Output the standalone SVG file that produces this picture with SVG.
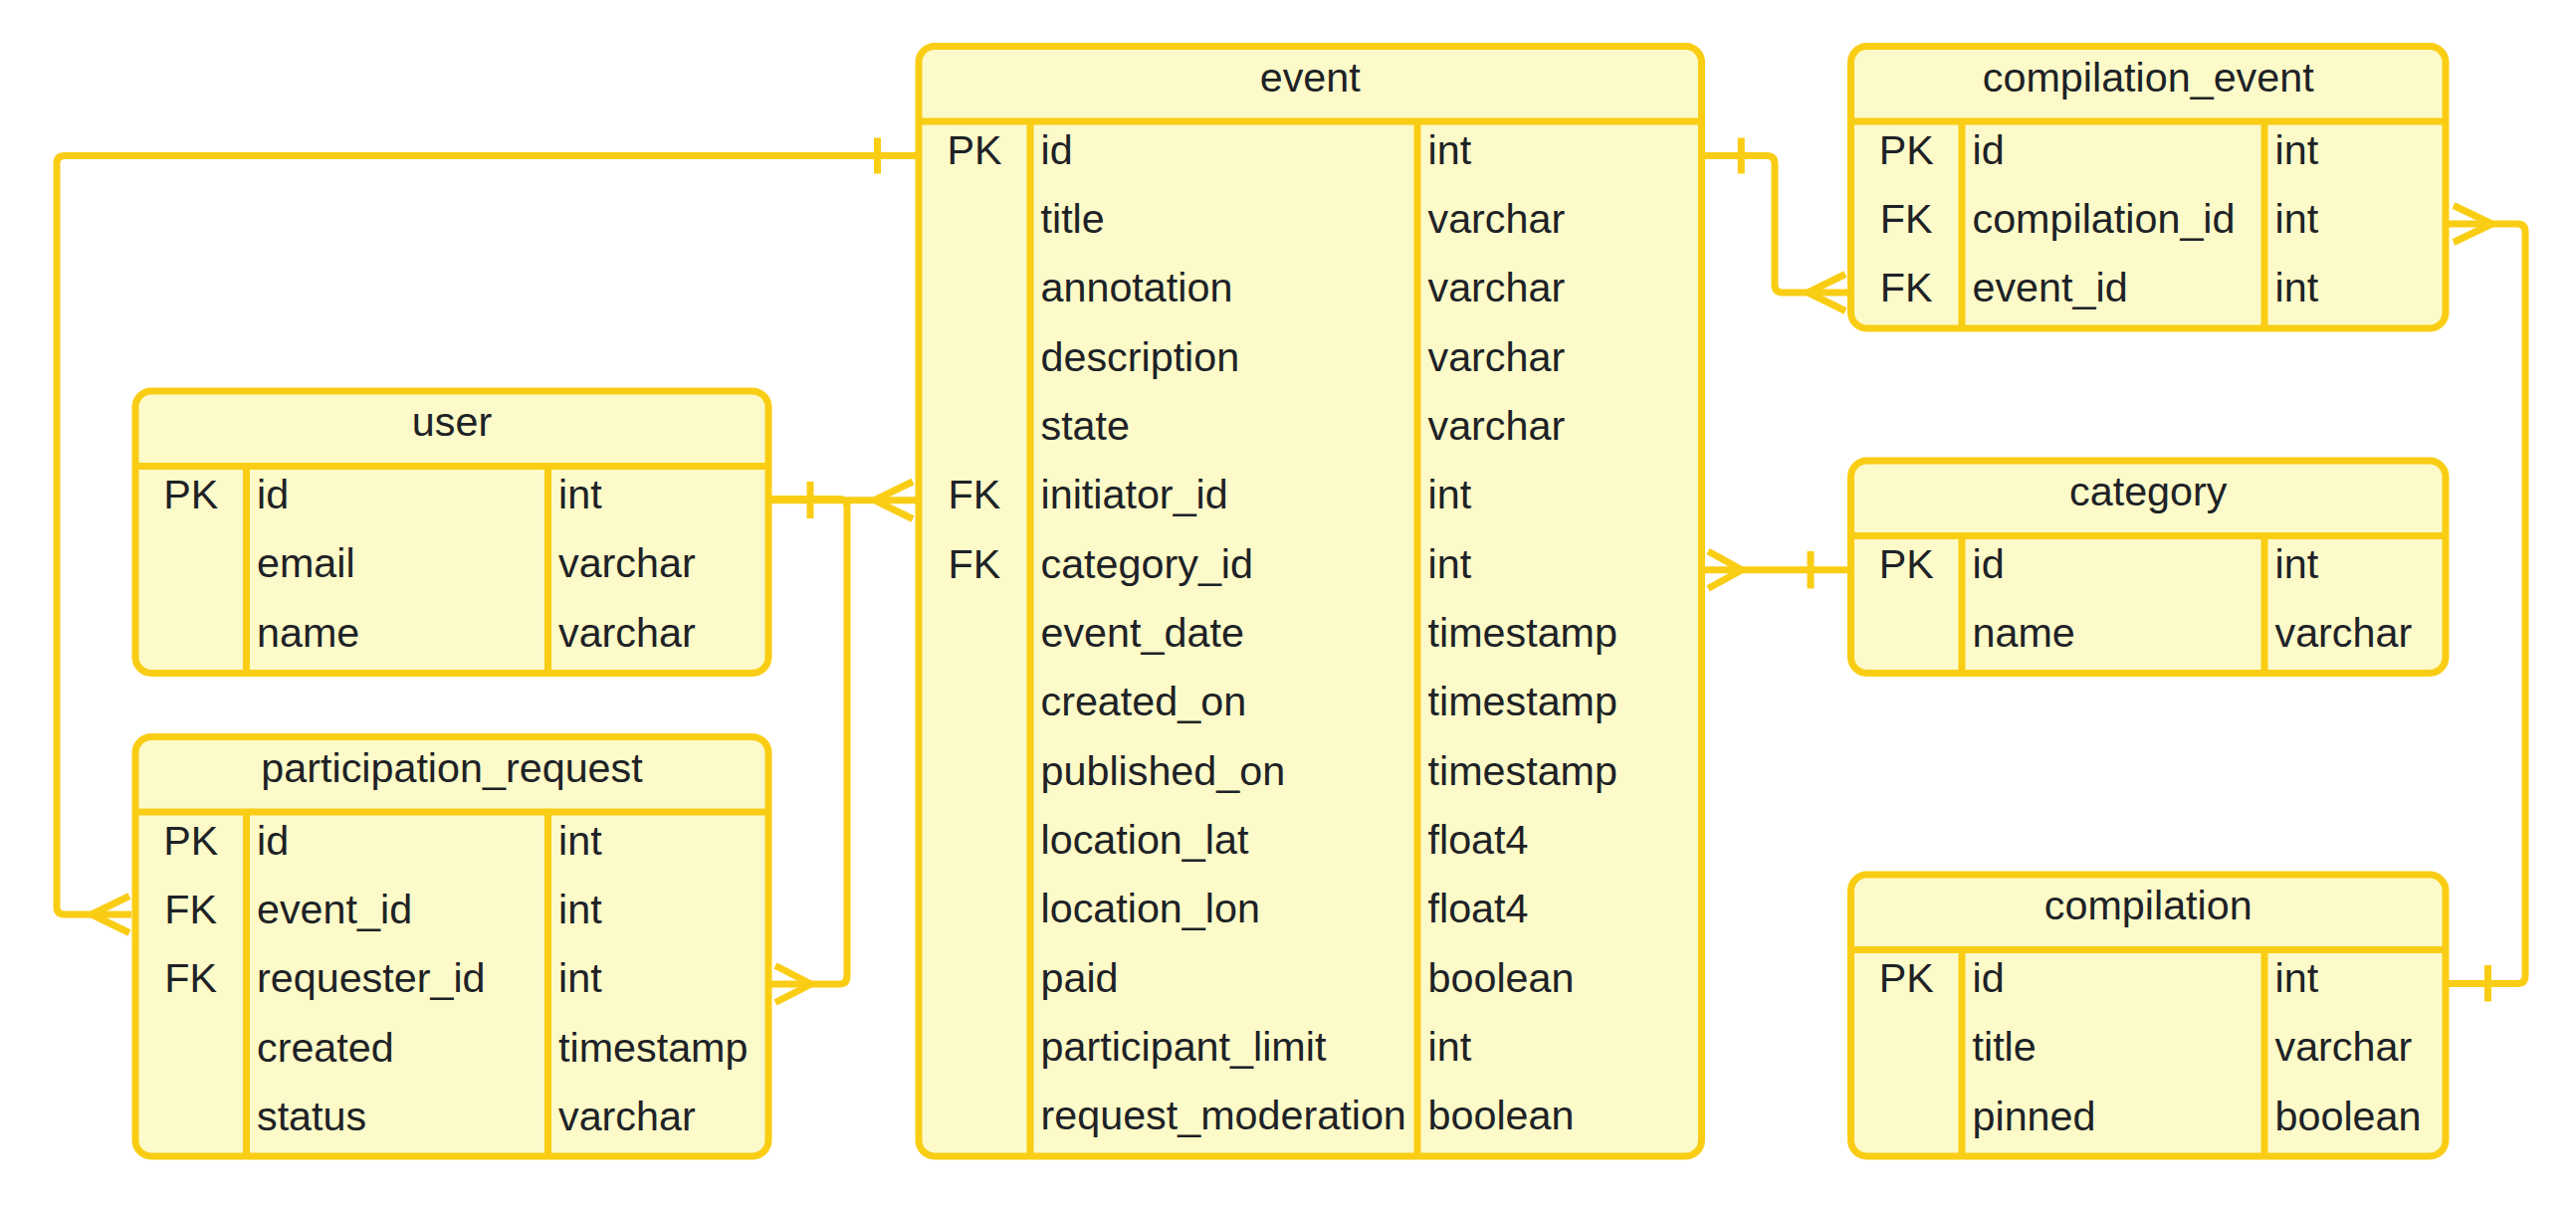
<svg xmlns="http://www.w3.org/2000/svg" width="2588" height="1211" viewBox="0 0 2588 1211">
<style>
.box{fill:#fbfac8;stroke:#facd15;stroke-width:7}
.sep{stroke:#facd15;stroke-width:7;fill:none}
.ln{stroke:#facd15;stroke-width:7;fill:none;stroke-linecap:butt;stroke-linejoin:round}
text{font-family:"Liberation Sans",Arial,sans-serif;font-size:41.3px;fill:#1e2226}
.h{text-anchor:middle}
.k{text-anchor:middle}
</style>
<rect width="2588" height="1211" fill="#ffffff"/>
<g id="connectors">
  <!-- event.id -> participation_request.event_id -->
  <path class="ln" d="M 921 156.5 L 65 156.5 Q 57 156.5 57 164.5 L 57 911 Q 57 919 65 919 L 132 919"/>
  <path class="ln" d="M 881.5 138.5 L 881.5 174.5"/>
  <path class="ln" d="M 92 919 L 130 900.5 M 92 919 L 130 937.5"/>
  <!-- user.id -> event.initiator_id -->
  <path class="ln" d="M 772 502.7 L 921 502.7"/>
  <path class="ln" d="M 814 484 L 814 521"/>
  <path class="ln" d="M 878.5 502.7 L 917 484 M 878.5 502.7 L 917 521.5"/>
  <!-- user.id -> participation_request.requester_id -->
  <path class="ln" d="M 772 501.5 L 843 501.5 Q 851 501.5 851 509.5 L 851 981 Q 851 989 843 989 L 775 989"/>
  <path class="ln" d="M 815 989 L 779 970.5 M 815 989 L 779 1007.5"/>
  <!-- event.id -> compilation_event.event_id -->
  <path class="ln" d="M 1710 156.5 L 1775 156.5 Q 1783 156.5 1783 164.5 L 1783 286 Q 1783 294 1791 294 L 1857 294"/>
  <path class="ln" d="M 1749.3 138.5 L 1749.3 174.5"/>
  <path class="ln" d="M 1816.5 294 L 1854 275.5 M 1816.5 294 L 1854 312.5"/>
  <!-- category.id -> event.category_id -->
  <path class="ln" d="M 1712 572.7 L 1860 572.7"/>
  <path class="ln" d="M 1819 554 L 1819 591.5"/>
  <path class="ln" d="M 1750 572.7 L 1716 554 M 1750 572.7 L 1716 591.5"/>
  <!-- compilation.id -> compilation_event.compilation_id -->
  <path class="ln" d="M 2457 988.5 L 2529 988.5 Q 2537 988.5 2537 980.5 L 2537 233 Q 2537 225 2529 225 L 2460 225"/>
  <path class="ln" d="M 2499.5 970 L 2499.5 1006.5"/>
  <path class="ln" d="M 2503.5 225 L 2465 206.5 M 2503.5 225 L 2465 243.5"/>
</g>

<g id="event">
  <rect class="box" x="923" y="46.5" width="786.5" height="1115.5" rx="16"/>
  <path class="sep" d="M 923 122 L 1709.5 122 M 1035 122 L 1035 1162 M 1424 122 L 1424 1162"/>
  <text class="h" x="1316.25" y="91.9">event</text>
  <text class="k" x="979" y="164.5">PK</text><text x="1045.5" y="164.5">id</text><text x="1434.5" y="164.5">int</text>
  <text x="1045.5" y="233.8">title</text><text x="1434.5" y="233.8">varchar</text>
  <text x="1045.5" y="303.2">annotation</text><text x="1434.5" y="303.2">varchar</text>
  <text x="1045.5" y="372.5">description</text><text x="1434.5" y="372.5">varchar</text>
  <text x="1045.5" y="441.8">state</text><text x="1434.5" y="441.8">varchar</text>
  <text class="k" x="979" y="511.2">FK</text><text x="1045.5" y="511.2">initiator_id</text><text x="1434.5" y="511.2">int</text>
  <text class="k" x="979" y="580.5">FK</text><text x="1045.5" y="580.5">category_id</text><text x="1434.5" y="580.5">int</text>
  <text x="1045.5" y="649.8">event_date</text><text x="1434.5" y="649.8">timestamp</text>
  <text x="1045.5" y="719.2">created_on</text><text x="1434.5" y="719.2">timestamp</text>
  <text x="1045.5" y="788.5">published_on</text><text x="1434.5" y="788.5">timestamp</text>
  <text x="1045.5" y="857.8">location_lat</text><text x="1434.5" y="857.8">float4</text>
  <text x="1045.5" y="927.2">location_lon</text><text x="1434.5" y="927.2">float4</text>
  <text x="1045.5" y="996.5">paid</text><text x="1434.5" y="996.5">boolean</text>
  <text x="1045.5" y="1065.8">participant_limit</text><text x="1434.5" y="1065.8">int</text>
  <text x="1045.5" y="1135.2">request_moderation</text><text x="1434.5" y="1135.2">boolean</text>
</g>

<g id="user">
  <rect class="box" x="136" y="393" width="636" height="283.5" rx="16"/>
  <path class="sep" d="M 136 468.5 L 772 468.5 M 247.5 468.5 L 247.5 676.5 M 550.5 468.5 L 550.5 676.5"/>
  <text class="h" x="454" y="438.4">user</text>
  <text class="k" x="191.75" y="511">PK</text><text x="258" y="511">id</text><text x="561" y="511">int</text>
  <text x="258" y="580.3">email</text><text x="561" y="580.3">varchar</text>
  <text x="258" y="649.7">name</text><text x="561" y="649.7">varchar</text>
</g>

<g id="participation_request">
  <rect class="box" x="136" y="740.5" width="636" height="421.5" rx="16"/>
  <path class="sep" d="M 136 816 L 772 816 M 247.5 816 L 247.5 1162 M 550.5 816 L 550.5 1162"/>
  <text class="h" x="454" y="785.9">participation_request</text>
  <text class="k" x="191.75" y="858.5">PK</text><text x="258" y="858.5">id</text><text x="561" y="858.5">int</text>
  <text class="k" x="191.75" y="927.8">FK</text><text x="258" y="927.8">event_id</text><text x="561" y="927.8">int</text>
  <text class="k" x="191.75" y="997.2">FK</text><text x="258" y="997.2">requester_id</text><text x="561" y="997.2">int</text>
  <text x="258" y="1066.5">created</text><text x="561" y="1066.5">timestamp</text>
  <text x="258" y="1135.8">status</text><text x="561" y="1135.8">varchar</text>
</g>

<g id="compilation_event">
  <rect class="box" x="1859.5" y="46.5" width="597.5" height="283.5" rx="16"/>
  <path class="sep" d="M 1859.5 122 L 2457 122 M 1971 122 L 1971 330 M 2275 122 L 2275 330"/>
  <text class="h" x="2158.25" y="91.9">compilation_event</text>
  <text class="k" x="1915.25" y="164.5">PK</text><text x="1981.5" y="164.5">id</text><text x="2285.5" y="164.5">int</text>
  <text class="k" x="1915.25" y="233.8">FK</text><text x="1981.5" y="233.8">compilation_id</text><text x="2285.5" y="233.8">int</text>
  <text class="k" x="1915.25" y="303.2">FK</text><text x="1981.5" y="303.2">event_id</text><text x="2285.5" y="303.2">int</text>
</g>

<g id="category">
  <rect class="box" x="1859.5" y="463" width="597.5" height="213.5" rx="16"/>
  <path class="sep" d="M 1859.5 538.5 L 2457 538.5 M 1971 538.5 L 1971 676.5 M 2275 538.5 L 2275 676.5"/>
  <text class="h" x="2158.25" y="508.4">category</text>
  <text class="k" x="1915.25" y="581">PK</text><text x="1981.5" y="581">id</text><text x="2285.5" y="581">int</text>
  <text x="1981.5" y="650.3">name</text><text x="2285.5" y="650.3">varchar</text>
</g>

<g id="compilation">
  <rect class="box" x="1859.5" y="879" width="597.5" height="283" rx="16"/>
  <path class="sep" d="M 1859.5 954.5 L 2457 954.5 M 1971 954.5 L 1971 1162 M 2275 954.5 L 2275 1162"/>
  <text class="h" x="2158.25" y="924.4">compilation</text>
  <text class="k" x="1915.25" y="997">PK</text><text x="1981.5" y="997">id</text><text x="2285.5" y="997">int</text>
  <text x="1981.5" y="1066.3">title</text><text x="2285.5" y="1066.3">varchar</text>
  <text x="1981.5" y="1135.7">pinned</text><text x="2285.5" y="1135.7">boolean</text>
</g>
</svg>
